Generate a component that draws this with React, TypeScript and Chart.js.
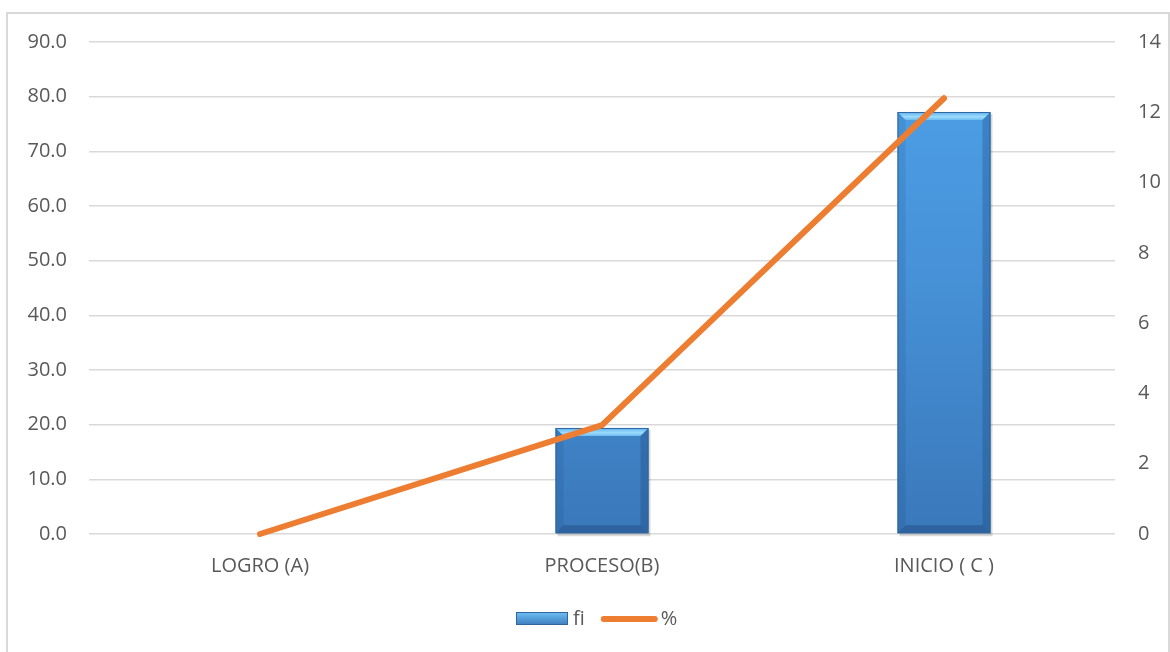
import React, { useEffect, useRef } from "react";
import { Chart, registerables } from "chart.js";

Chart.register(...registerables);

const categories = ["LOGRO (A)", "PROCESO(B)", "INICIO ( C )"];
const fiValues = [0, 19.4, 77.2];
const pctValues = [0, 3.1, 12.4];
const leftTicks = [0, 10, 20, 30, 40, 50, 60, 70, 80, 90];
const rightTicks = [0, 2, 4, 6, 8, 10, 12, 14];

const FONT = "'Open Sans', 'Liberation Sans', sans-serif";
const TEXT = "#595959";
const GRID = "#d9d9d9";
const FONT_SIZE = 20;
const BAR_COLOR = "#4a9be2";
const BAR_EDGE = "#2f669e";
const LINE_COLOR = "#ed7d31";

// Bevelled block: light top edge, darker sides and bottom.
function drawBevel(ctx: CanvasRenderingContext2D, l: number, t: number, w: number, h: number, b: number) {
  const r = l + w;
  const base = t + h;
  ctx.save();
  const tg = ctx.createLinearGradient(0, t, 0, t + b);
  tg.addColorStop(0, "#5aaef0");
  tg.addColorStop(0.6, "#9ddcfb");
  tg.addColorStop(1, "#6cbcf2");
  ctx.fillStyle = tg;
  ctx.beginPath();
  ctx.moveTo(l, t);
  ctx.lineTo(r, t);
  ctx.lineTo(r - b, t + b);
  ctx.lineTo(l + b, t + b);
  ctx.closePath();
  ctx.fill();
  ctx.fillStyle = "rgba(20,60,110,0.28)";
  ctx.beginPath();
  ctx.moveTo(r, t);
  ctx.lineTo(r, base);
  ctx.lineTo(r - b, base - b);
  ctx.lineTo(r - b, t + b);
  ctx.closePath();
  ctx.fill();
  ctx.fillStyle = "rgba(20,60,110,0.12)";
  ctx.beginPath();
  ctx.moveTo(l, t);
  ctx.lineTo(l + b, t + b);
  ctx.lineTo(l + b, base - b);
  ctx.lineTo(l, base);
  ctx.closePath();
  ctx.fill();
  ctx.fillStyle = "rgba(20,50,100,0.3)";
  ctx.beginPath();
  ctx.moveTo(l, base);
  ctx.lineTo(r, base);
  ctx.lineTo(r - b, base - b);
  ctx.lineTo(l + b, base - b);
  ctx.closePath();
  ctx.fill();
  ctx.strokeStyle = BAR_EDGE;
  ctx.lineWidth = 1;
  ctx.strokeRect(l + 0.5, t + 0.5, w - 1, h - 1);
  ctx.restore();
}

// Shadow under the bars and bevel over them.
const bevelPlugin = {
  id: "bevel",
  beforeDatasetsDraw(chart: any) {
    const meta = chart.getDatasetMeta(0);
    const ctx = chart.ctx;
    meta.data.forEach((bar: any) => {
      const { x, y, base, width } = bar.getProps(["x", "y", "base", "width"], true);
      if (Math.abs(base - y) < 1) return;
      ctx.save();
      ctx.fillStyle = "rgba(0,0,0,0.15)";
      ctx.fillRect(x - width / 2 + 2, y + 2, width, base - y + 1);
      ctx.restore();
    });
  },
  afterDatasetDraw(chart: any, args: any) {
    if (args.index !== 0) return;
    const meta = chart.getDatasetMeta(0);
    meta.data.forEach((bar: any) => {
      const { x, y, base, width } = bar.getProps(["x", "y", "base", "width"], true);
      const h = base - y;
      if (h < 1) return;
      drawBevel(chart.ctx, x - width / 2, y, width, h, 8);
    });
  },
};

// Legend drawn below the category labels: bar swatch + "fi", line swatch + "%".
const legendPlugin = {
  id: "bottomLegend",
  afterDraw(chart: any) {
    const ctx = chart.ctx;
    const datasets = chart.data.datasets;
    const cy = chart.height - 41;
    let x = chart.width / 2 - 72;
    ctx.save();
    ctx.font = `${FONT_SIZE}px ${FONT}`;
    ctx.textBaseline = "middle";
    ctx.textAlign = "left";
    ctx.fillStyle = TEXT;
    // bar swatch
    const g = ctx.createLinearGradient(0, cy - 7, 0, cy + 7);
    g.addColorStop(0, "#6fc0f5");
    g.addColorStop(1, "#3a78ba");
    ctx.fillStyle = g;
    ctx.fillRect(x, cy - 7, 52, 13);
    ctx.strokeStyle = BAR_EDGE;
    ctx.lineWidth = 1;
    ctx.strokeRect(x + 0.5, cy - 6.5, 51, 12);
    x += 57;
    ctx.fillStyle = TEXT;
    ctx.fillText(datasets[0].label, x, cy);
    x += ctx.measureText(datasets[0].label).width + 19;
    // line swatch
    ctx.strokeStyle = LINE_COLOR;
    ctx.lineWidth = 6;
    ctx.lineCap = "round";
    ctx.beginPath();
    ctx.moveTo(x, cy);
    ctx.lineTo(x + 51, cy);
    ctx.stroke();
    x += 57;
    ctx.fillStyle = TEXT;
    ctx.fillText(datasets[1].label, x, cy);
    ctx.restore();
  },
};

const noPad = (s: any) => {
  s.paddingTop = 0;
  s.paddingBottom = 0;
};

export default function App() {
  const canvasRef = useRef<HTMLCanvasElement | null>(null);

  useEffect(() => {
    const canvas = canvasRef.current;
    if (!canvas) return;
    const chart = new Chart(canvas, {
      type: "bar",
      data: {
        labels: categories,
        datasets: [
          {
            type: "bar",
            label: "fi",
            data: fiValues,
            yAxisID: "y",
            order: 1,
            barPercentage: 0.272,
            categoryPercentage: 1,
            backgroundColor: (ctx: any) => {
              const area = ctx.chart.chartArea;
              if (!area) return BAR_COLOR;
              const g = ctx.chart.ctx.createLinearGradient(0, area.top, 0, area.bottom);
              g.addColorStop(0, "#4ea2ea");
              g.addColorStop(0.5, "#4690d6");
              g.addColorStop(1, "#3a78ba");
              return g;
            },
            borderWidth: 0,
          },
          {
            type: "line",
            label: "%",
            data: pctValues,
            yAxisID: "y1",
            order: 0,
            borderColor: LINE_COLOR,
            backgroundColor: LINE_COLOR,
            borderWidth: 6,
            borderCapStyle: "round",
            borderJoinStyle: "round",
            pointRadius: 0,
            pointHoverRadius: 0,
            tension: 0,
            clip: false,
          },
        ],
      },
      options: {
        responsive: true,
        maintainAspectRatio: false,
        animation: false,
        layout: { padding: { top: 28, bottom: 70, left: 0, right: 0 } },
        plugins: {
          tooltip: { enabled: false },
          legend: { display: false },
        },
        scales: {
          x: {
            grid: { display: false, drawTicks: false },
            border: { display: false },
            ticks: { color: TEXT, font: { family: FONT, size: FONT_SIZE }, padding: 20 },
            afterFit: (s: any) => {
              s.height = 56;
            },
          },
          y: {
            position: "left",
            min: 0,
            max: 90,
            afterBuildTicks: (s: any) => {
              s.ticks = leftTicks.map((v) => ({ value: v }));
            },
            ticks: {
              color: TEXT,
              font: { family: FONT, size: FONT_SIZE },
              padding: 22,
              callback: (v: any) => Number(v).toFixed(1),
            },
            grid: { color: GRID, lineWidth: 1.5, drawTicks: false },
            border: { display: false },
            afterFit: (s: any) => {
              s.width = 81;
              noPad(s);
            },
          },
          y1: {
            position: "right",
            min: 0,
            max: 14,
            afterBuildTicks: (s: any) => {
              s.ticks = rightTicks.map((v) => ({ value: v }));
            },
            ticks: {
              color: TEXT,
              font: { family: FONT, size: FONT_SIZE },
              padding: 23,
              callback: (v: any) => String(v),
            },
            grid: { display: false, drawTicks: false },
            border: { display: false },
            afterFit: (s: any) => {
              s.width = 53;
              noPad(s);
            },
          },
        },
      },
      plugins: [bevelPlugin, legendPlugin],
    } as any);
    return () => chart.destroy();
  }, []);

  return (
    <div
      style={{
        position: "absolute",
        left: 6,
        top: 12,
        width: 1164,
        height: 650,
        border: "2px solid #d9d9d9",
        boxSizing: "border-box",
        background: "#fff",
      }}
    >
      <canvas ref={canvasRef} />
    </div>
  );
}
